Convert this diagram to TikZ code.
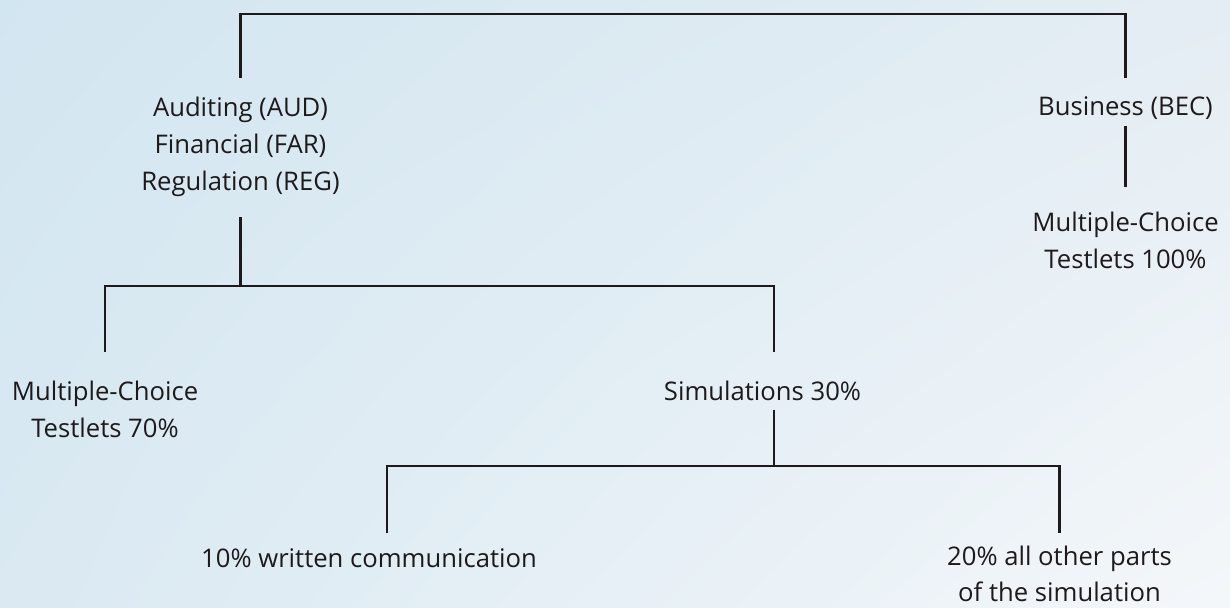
\documentclass[tikz,border=0pt]{standalone}
\usepackage{fontspec}
\setmainfont{Open Sans}
\usepackage{xcolor}
\definecolor{cpabgtl}{HTML}{D2E6F1}
\definecolor{cpabgtr}{HTML}{E4EDF3}
\definecolor{cpabgbl}{HTML}{DAE9F2}
\definecolor{cpabgbr}{HTML}{F4F7FA}
\definecolor{cpaink}{HTML}{1E1A1B}
\usepackage{tikz}
\usetikzlibrary{calc,shadings}

\begin{document}
\begin{tikzpicture}[x=0.02cm,y=-0.02cm,
  lbl/.style={align=center,text=cpaink,inner sep=0pt,outer sep=0pt,anchor=north,
    font=\fontsize{14.6}{21}\selectfont},
  tree/.style={draw=cpaink,line width=1.6pt}]
\shade[upper left=cpabgtl,upper right=cpabgtr,lower left=cpabgbl,lower right=cpabgbr]
  (0,0) rectangle (1230,608);
\useasboundingbox (0,0) rectangle (1230,608);

\node[lbl] (aud) at (240.5,97) {Auditing (AUD)\\Financial (FAR)\\Regulation (REG)};
\node[lbl] (bec) at (1125.5,97) {Business (BEC)};
\node[lbl] (mcb) at (1125.5,212) {Multiple-Choice\\Testlets 100\%};
\node[lbl] (mc) at (105,381) {Multiple-Choice\\Testlets 70\%};
\node[lbl] (sim) at (762.5,381) {Simulations 30\%};
\node[lbl] (wc) at (369,549) {10\% written communication};
\node[lbl,font=\fontsize{14.6}{20.4}\selectfont] (oth) at (1059.5,546) {20\% all other parts\\of the simulation};

\coordinate (topbar) at (682,14);
\coordinate (midbar) at (440,286);
\coordinate (lowbar) at (722,466);
\coordinate (simtop) at ($(sim.north)+(11.5,0)$);
\coordinate (simbot) at ($(sim.south)+(11.5,0)$);
\coordinate (wctop) at ($(wc.north)+(18,0)$);

% upper level
\draw[tree,shorten <=10.8pt,shorten >=10.8pt] (aud.north) |- (topbar) -| (bec.north);
\draw[tree,shorten <=3.4pt,shorten >=14.2pt] (bec.south) -- (mcb.north);
% sections AUD / FAR / REG
\draw[tree,shorten <=11.9pt] (aud.south) -- (aud.south |- midbar);
\draw[tree,shorten <=16.4pt,shorten >=16.4pt] (mc.north) |- (midbar) -| (simtop);
% simulations
\draw[tree,shorten <=5.1pt] (simbot) -- (simbot |- lowbar);
\draw[tree,shorten <=9pt,shorten >=7.3pt] (wctop) |- (lowbar) -| (oth.north);
\end{tikzpicture}
\end{document}
